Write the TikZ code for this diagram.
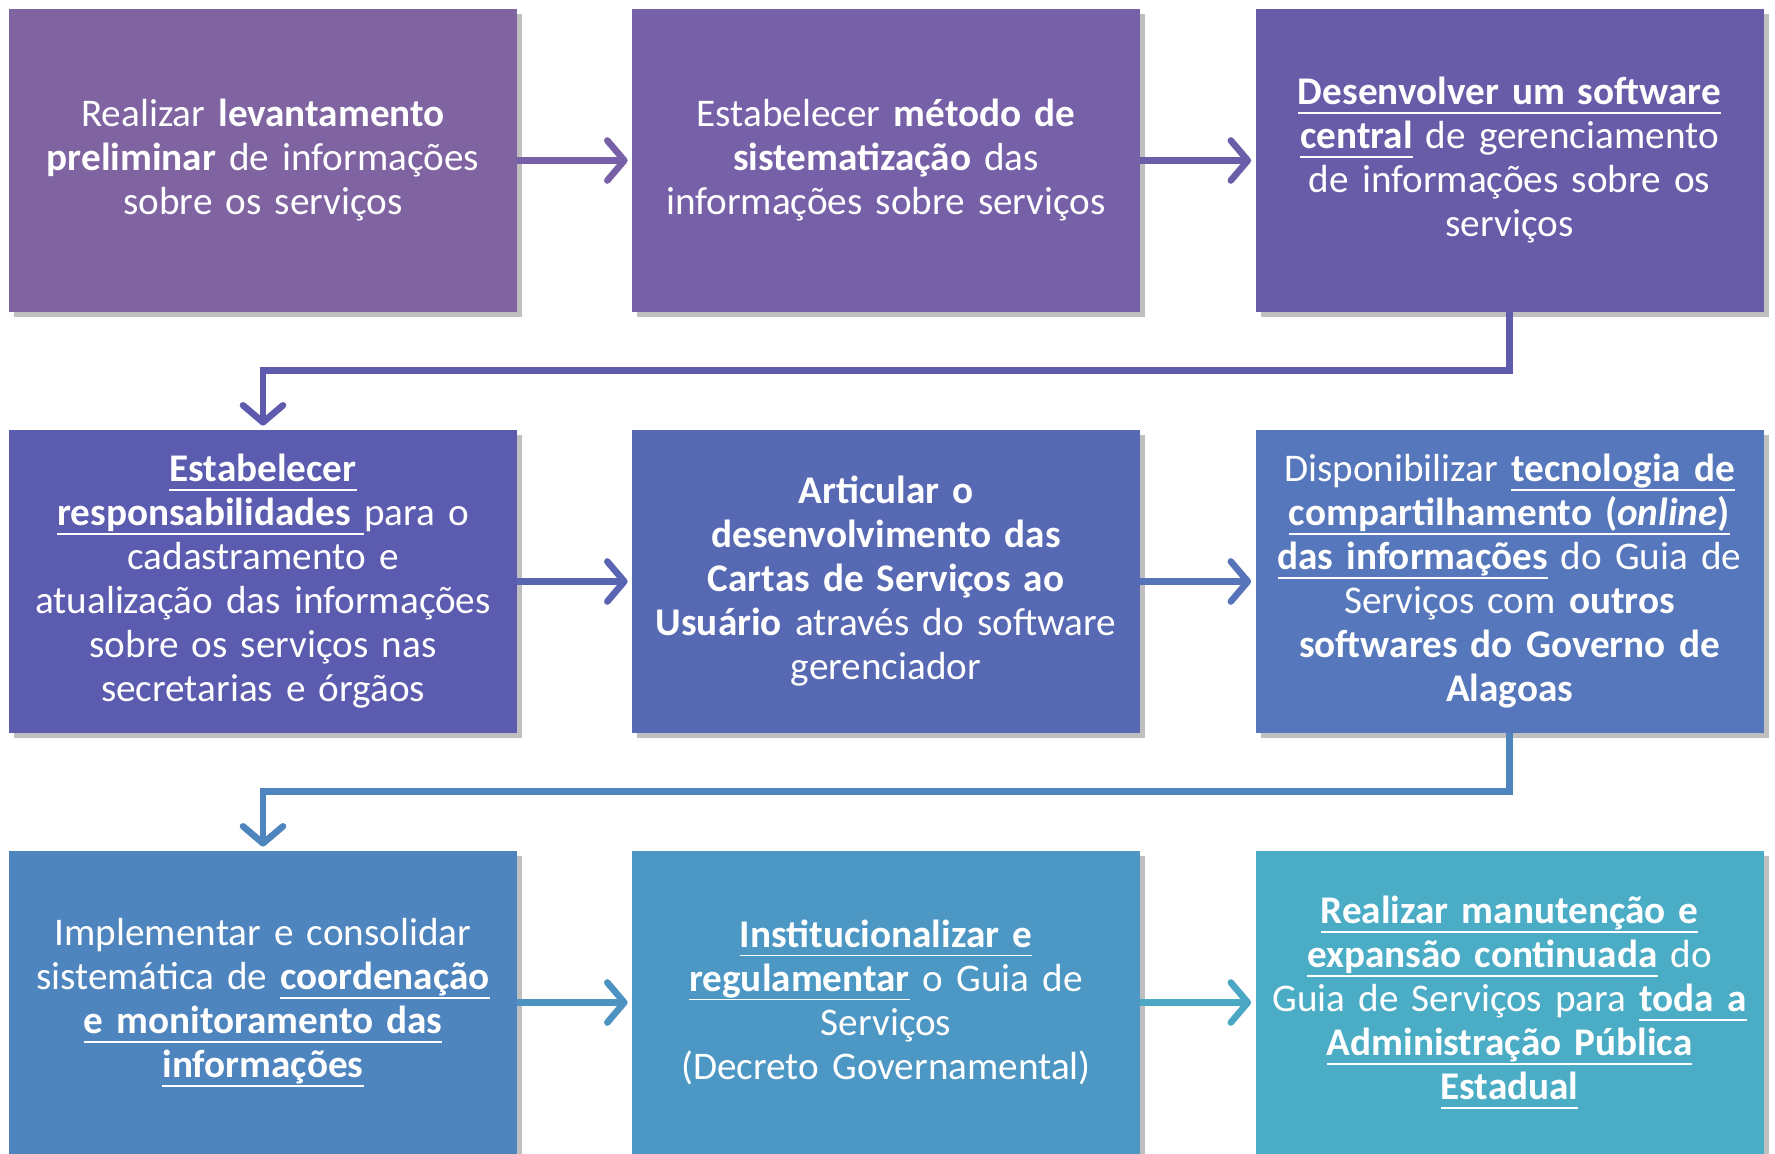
\documentclass[tikz,border=0pt]{standalone}
\usepackage{fontspec}
\setmainfont{Carlito}
\usetikzlibrary{arrows.meta,shadows}
\tikzset{every shadow/.style={fill=black,opacity=0.25,shadow xshift=2.5pt,shadow yshift=-2.5pt}}
\definecolor{cA}{HTML}{8064A2}
\definecolor{cB}{HTML}{7660A8}
\definecolor{cC}{HTML}{685CA8}
\definecolor{cD}{HTML}{5B5BAF}
\definecolor{cE}{HTML}{5869B4}
\definecolor{cF}{HTML}{5677BB}
\definecolor{cG}{HTML}{4F85BE}
\definecolor{cH}{HTML}{4C97C3}
\definecolor{cI}{HTML}{4BACC6}
\newsavebox{\ubox}
\newcommand{\Ub}[1]{\leavevmode\sbox{\ubox}{\textbf{#1}}\rlap{\rule[-4.4pt]{\wd\ubox}{0.8pt}}\usebox{\ubox}}

\begin{document}
\begin{tikzpicture}[x=1pt,y=1pt,
  acao/.style={rectangle,drop shadow,minimum width=254pt,minimum height=151.5pt,
    inner sep=0pt,text width=252pt,align=center,text=white,
    font=\fontsize{19.6pt}{22pt}\selectfont},
  seta/.style={line width=3.3pt,-{Straight Barb[length=8.5pt,width=20pt,round]},shorten >=2pt}]
\useasboundingbox (0,0) rectangle (887.5,576.5);
% first row
\node (a1) [acao,fill=cA] at (131.5,496.25) {Realizar \textbf{levantamento}\\ \textbf{preliminar} de informações\\ sobre os serviços};
\node (a2) [acao,fill=cB] at (443,496.25) {Estabelecer \textbf{método de}\\ \textbf{sistematização} das\\ informações sobre serviços};
\node (a3) [acao,fill=cC] at (754.75,496.25) {\Ub{Desenvolver um software}\\ \Ub{central} de gerenciamento\\ de informações sobre os\\ serviços};
% second row
\node (a4) [acao,fill=cD] at (131.5,285.75) {\Ub{Estabelecer}\\ \Ub{responsabilidades }para o\\ cadastramento e\\ atualização das informações\\ sobre os serviços nas\\ secretarias e órgãos};
\node (a5) [acao,fill=cE] at (443,285.75) {\textbf{Articular o}\\ \textbf{desenvolvimento das}\\ \textbf{Cartas de Serviços ao}\\ \textbf{Usuário} através do software\\ gerenciador};
\node (a6) [acao,fill=cF] at (754.75,285.75) {Disponibilizar \Ub{tecnologia de}\\ \Ub{compartilhamento (\textit{online})}\\ \Ub{das informações} do Guia de\\ Serviços com \textbf{outros}\\ \textbf{softwares do Governo de}\\ \textbf{Alagoas}};
% third row
\node (a7) [acao,fill=cG] at (131.5,75.25) {Implementar e consolidar\\ sistemática de \Ub{coordenação}\\ \Ub{e monitoramento das}\\ \Ub{informações}};
\node (a8) [acao,fill=cH] at (443,75.25) {\Ub{Institucionalizar e}\\ \Ub{regulamentar} o Guia de\\ Serviços\\ (Decreto Governamental)};
\node (a9) [acao,fill=cI] at (754.75,75.25) {\Ub{Realizar manutenção e}\\ \Ub{expansão continuada} do\\ Guia de Serviços para \Ub{toda a}\\ \Ub{Administração Pública}\\ \Ub{Estadual}};
%
\path[seta,draw=cB!90!cA] (a1) edge (a2);
\path[seta,draw=cC!80!cB] (a2) edge (a3);
\draw[seta,draw=cD!80!cC] (a3.south) -- ++(0,-29) -| (a4.north);
\path[seta,draw=cE!70!cD] (a4) edge (a5);
\path[seta,draw=cF!70!cE] (a5) edge (a6);
\draw[seta,draw=cG] (a6.south) -- ++(0,-29) -| (a7.north);
\path[seta,draw=cH!80!cG] (a7) edge (a8);
\path[seta,draw=cI!80!cH] (a8) edge (a9);
\end{tikzpicture}
\end{document}
